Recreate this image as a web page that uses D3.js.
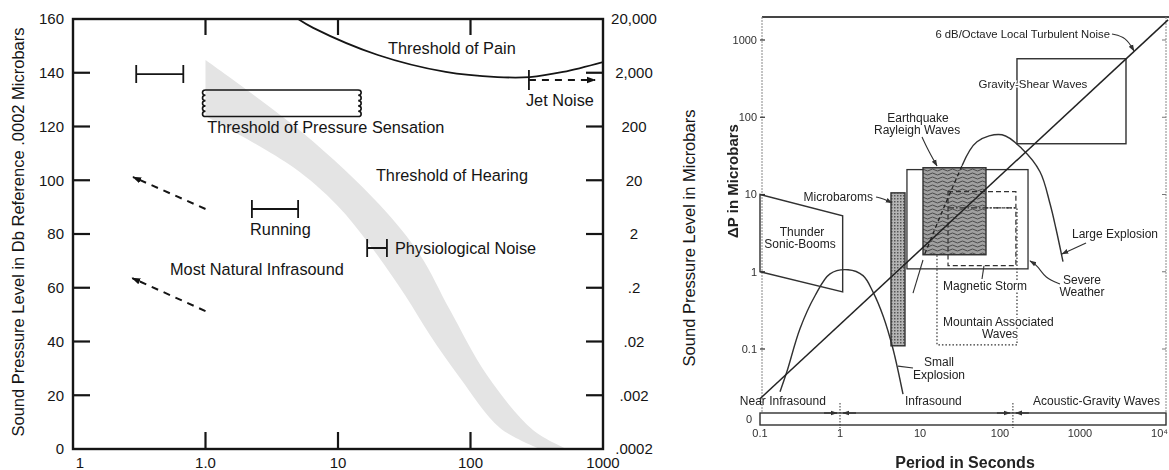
<!DOCTYPE html>
<html><head><meta charset="utf-8">
<script src="https://cdn.jsdelivr.net/npm/d3@7"></script>
<style>
body{margin:0;background:#fff}
svg{display:block}
text{font-family:"Liberation Sans",Arial,sans-serif}
</style></head><body>
<svg id="c" width="1169" height="470"></svg>
<script>
// ---------- Left panel: sound pressure level vs frequency ----------
const leftFreqTicks = [0.1, 1, 10, 100, 1000];
const leftFreqLabels = ["1", "1.0", "10", "100", "1000"];
const dbTicks = [0, 20, 40, 60, 80, 100, 120, 140, 160];
const microbarLabels = [".0002", ".002", ".02", ".2", "2", "20", "200", "2,000", "20,000"];

// threshold of pain [frequency, dB]
const painThreshold = [[5, 160], [6.5, 156.7], [20, 146.6], [65, 140.3], [160, 138.4], [280, 138.4], [500, 140.3], [1000, 144]];
// threshold of hearing band, upper and lower edges [frequency, dB]
const hearingUpper = [[1.0, 144.7], [5.44, 117.6], [20.7, 90.8], [41.6, 72.2], [70, 51.7], [133, 27.5], [296, 7.1], [535, 0]];
const hearingLower = [[1.0, 123.9], [4.57, 104.9], [9.8, 90.8], [17.4, 75.9], [32, 57.3], [49.4, 42.4], [83.4, 26.4], [167, 7.8], [335, 0]];
// threshold of pressure sensation: frequency span and dB span
const pressureFreq = [1.0, 14.2];
const pressureDb = [123.7, 133.6];
// range bars: frequency from, frequency to, dB
const rangeFrom = [0.30, 2.24, 16.6];
const rangeTo = [0.68, 5.0, 23.4];
const rangeDb = [139.5, 89.3, 74.8];
// jet noise: start frequency, end frequency, dB
const jetFreq = [276, 871];
const jetDb = 137.3;
// natural infrasound trend arrows [from, to] as [frequency, dB]
const infraArrowUpper = [[1.0, 89.3], [0.284, 101.2]];
const infraArrowLower = [[1.0, 51.3], [0.28, 63.6]];

// ---------- Right panel: pressure amplitude vs period ----------
const periodTicks = [0.1, 1, 10, 100, 1000, 10000];
const periodLabels = ["0.1", "1", "10", "100", "1000", "10\u2074"];
const dpTicks = [0.1, 1, 10, 100, 1000];
const dpLabels = ["0.1", "1", "10", "100", "1000"];

const turbulentNoise = [[0.1, 0.0227], [12600, 1820]];
const gravityShearT = [163, 3758], gravityShearP = [45.4, 572];
const severeWeatherT = [6.87, 224], severeWeatherP = [1.09, 21];
const earthquakeT = [10.9, 66.8], earthquakeP = [1.66, 22.2];
const microbaromsT = [4.34, 6.49], microbaromsP = [0.11, 10.5];
const magneticT = [22.4, 158], magneticP = [1.2, 10.9];
const mountainT = [16.3, 163], mountainP = [0.113, 6.7];
const thunder = [[0.1, 10], [1.08, 5.31], [1.08, 0.55], [0.1, 1]];
const largeExplosion = [[11.5, 1.71], [17.8, 5.15], [25.1, 11.9], [33.5, 23.6], [51.6, 48.2], [106, 59.3], [188, 39.1], [316, 19.7], [422, 7.6], [501, 3.6], [613, 1.35]];
const largeExplosionHidden = 4; // first points run through the shaded box
const smallExplosion = [[0.178, 0.028], [0.217, 0.051], [0.316, 0.183], [0.487, 0.489], [0.75, 0.94], [1.26, 1.06], [1.94, 0.89], [2.58, 0.55], [3.45, 0.27], [4.6, 0.10], [6.13, 0.026]];
const bandBoundaries = [1, 145];

const svg = d3.select("#c");
const defs = svg.append("defs");

function addMarker(id, color, size) {
  defs.append("marker").attr("id", id)
    .attr("viewBox", "0 0 10 10").attr("refX", 9).attr("refY", 5)
    .attr("markerWidth", size).attr("markerHeight", size)
    .attr("markerUnits", "userSpaceOnUse")
    .attr("orient", "auto-start-reverse")
    .append("path").attr("d", "M0,1.5 L10,5 L0,8.5 z").attr("fill", color);
}
addMarker("arrL", "#111", 9);
addMarker("arrR", "#333", 7);

// shaded textures
const wav = defs.append("pattern").attr("id", "wavy").attr("patternUnits", "userSpaceOnUse")
  .attr("width", 10).attr("height", 4);
wav.append("rect").attr("width", 10).attr("height", 4).attr("fill", "#a0a0a0");
wav.append("path").attr("d", "M0,2 Q2.5,0 5,2 T10,2").attr("fill", "none").attr("stroke", "#4a4a4a").attr("stroke-width", 1);
const dots = defs.append("pattern").attr("id", "dots").attr("patternUnits", "userSpaceOnUse")
  .attr("width", 3).attr("height", 3);
dots.append("rect").attr("width", 3).attr("height", 3).attr("fill", "#b5b5b5");
dots.append("rect").attr("width", 1.5).attr("height", 1.5).attr("fill", "#555");

// soft scan look for the right-hand figure
defs.append("filter").attr("id", "soft").append("feGaussianBlur").attr("stdDeviation", 0.35);

// ================= LEFT PANEL =================
const xL = d3.scaleLog().domain([0.1, 1000]).range([73, 603]);
const yL = d3.scaleLinear().domain([0, 160]).range([449, 19]);
const L = svg.append("g");
defs.append("clipPath").attr("id", "clipL").append("rect")
  .attr("x", 73).attr("y", 19).attr("width", 530).attr("height", 430);

const lineL = d3.line().x(d => xL(d[0])).y(d => yL(d[1])).curve(d3.curveCatmullRom);
const ink = "#151515";

// hearing threshold band
const upperPath = lineL(hearingUpper);
const lowerPath = lineL(hearingLower.slice().reverse()).replace(/^M/, "L");
L.append("path").attr("clip-path", "url(#clipL)")
  .attr("d", upperPath + lowerPath + "Z").attr("fill", "#e4e4e4");

// threshold of pain curve
L.append("path").attr("clip-path", "url(#clipL)").attr("d", lineL(painThreshold))
  .attr("fill", "none").attr("stroke", ink).attr("stroke-width", 1.8);

// threshold of pressure sensation box with wavy ends
{
  const x0 = xL(pressureFreq[0]), x1 = xL(pressureFreq[1]);
  const yt = yL(pressureDb[1]), yb = yL(pressureDb[0]);
  const n = 5, h = (yb - yt) / n;
  let p = `M${x0},${yt}L${x1},${yt}`;
  for (let i = 0; i < n; i++) p += `a3,${h / 2} 0 0 1 0,${h}`;
  p += `L${x0},${yb}`;
  for (let i = 0; i < n; i++) p += `a3,${h / 2} 0 0 1 0,${-h}`;
  L.append("path").attr("d", p).attr("fill", "none").attr("stroke", ink).attr("stroke-width", 1.6);
}

// range bars
rangeDb.forEach((db, i) => {
  const a = xL(rangeFrom[i]), b = xL(rangeTo[i]), y = yL(db);
  L.append("path").attr("d", `M${a},${y - 9}V${y + 9}M${a},${y}H${b}M${b},${y - 9}V${y + 9}`)
    .attr("fill", "none").attr("stroke", ink).attr("stroke-width", 1.8);
});

// jet noise
{
  const a = xL(jetFreq[0]), b = xL(jetFreq[1]), y = yL(jetDb);
  L.append("line").attr("x1", a).attr("x2", a).attr("y1", y - 10).attr("y2", y + 10)
    .attr("stroke", ink).attr("stroke-width", 1.8);
  L.append("line").attr("x1", a).attr("x2", b).attr("y1", y).attr("y2", y)
    .attr("stroke", ink).attr("stroke-width", 1.8).attr("stroke-dasharray", "7,6")
    .attr("marker-end", "url(#arrL)");
}

// natural infrasound arrows
[infraArrowUpper, infraArrowLower].forEach(seg => {
  L.append("line").attr("x1", xL(seg[0][0])).attr("y1", yL(seg[0][1]))
    .attr("x2", xL(seg[1][0])).attr("y2", yL(seg[1][1]))
    .attr("stroke", ink).attr("stroke-width", 2).attr("stroke-dasharray", "7,6")
    .attr("marker-end", "url(#arrL)");
});

// frame and ticks
L.append("rect").attr("x", 73).attr("y", 19).attr("width", 530).attr("height", 430)
  .attr("fill", "none").attr("stroke", ink).attr("stroke-width", 2.4);
dbTicks.filter(d => d > 0 && d < 160).forEach(d => {
  L.append("line").attr("x1", 73).attr("x2", 90).attr("y1", yL(d)).attr("y2", yL(d)).attr("stroke", ink).attr("stroke-width", 2.2);
  L.append("line").attr("x1", 586).attr("x2", 603).attr("y1", yL(d)).attr("y2", yL(d)).attr("stroke", ink).attr("stroke-width", 2.2);
});
leftFreqTicks.filter(f => f > 0.1 && f < 1000).forEach(f => {
  L.append("line").attr("x1", xL(f)).attr("x2", xL(f)).attr("y1", 19).attr("y2", 35).attr("stroke", ink).attr("stroke-width", 2.2);
  L.append("line").attr("x1", xL(f)).attr("x2", xL(f)).attr("y1", 432).attr("y2", 449).attr("stroke", ink).attr("stroke-width", 2.2);
});

// tick labels
const tl = L.append("g").attr("font-size", 15).attr("fill", ink);
dbTicks.forEach((d, i) => {
  tl.append("text").attr("x", 64).attr("y", yL(d)).attr("dy", "0.35em").attr("text-anchor", "end").text(d);
  tl.append("text").attr("x", 634).attr("y", yL(d)).attr("dy", "0.35em").attr("text-anchor", "middle").text(microbarLabels[i]);
});
leftFreqTicks.forEach((f, i) => {
  tl.append("text").attr("x", xL(f) + (i === 0 ? 7 : 0)).attr("y", 468).attr("text-anchor", "middle").text(leftFreqLabels[i]);
});

// axis titles
L.append("text").attr("transform", "translate(24,232) rotate(-90)").attr("text-anchor", "middle")
  .attr("font-size", 16.5).attr("fill", ink).text("Sound Pressure Level in Db Reference .0002 Microbars");
L.append("text").attr("transform", "translate(695,238) rotate(-90)").attr("text-anchor", "middle")
  .attr("font-size", 16.5).attr("fill", ink).text("Sound Pressure Level in Microbars");

// annotations
const ann = L.append("g").attr("font-size", 16.3).attr("fill", ink);
function noteL(txt, f, db, anchor) {
  ann.append("text").attr("x", xL(f)).attr("y", yL(db)).attr("dy", "0.35em").attr("text-anchor", anchor).text(txt);
}
noteL("Threshold of Pain", 72.4, 149.2, "middle");
noteL("Jet Noise", 473, 129.9, "middle");
noteL("Threshold of Pressure Sensation", 1.03, 119.8, "start");
noteL("Threshold of Hearing", 72.4, 102, "middle");
noteL("Running", 2.17, 81.9, "start");
noteL("Physiological Noise", 26.9, 74.8, "start");
noteL("Most Natural Infrasound", 0.54, 67, "start");

// ================= RIGHT PANEL =================
const xR = d3.scaleLog().domain([0.1, 10000]).range([760, 1160]);
const yR = d3.scaleLog().domain([0.1, 1000]).range([349, 40]);
const grey = "#303030";
const G = svg.append("g").attr("filter", "url(#soft)");
const lineR = d3.line().x(d => xR(d[0])).y(d => yR(d[1]));
const curveR = d3.line().x(d => xR(d[0])).y(d => yR(d[1])).curve(d3.curveCatmullRom);
const stripTop = 413, stripBot = 425;

// frame
G.append("line").attr("x1", 762).attr("x2", 1169).attr("y1", 17).attr("y2", 17).attr("stroke", "#444").attr("stroke-width", 1.8);
G.append("line").attr("x1", 762).attr("x2", 762).attr("y1", 17).attr("y2", stripTop).attr("stroke", "#888").attr("stroke-width", 1).attr("stroke-dasharray", "2,1");
G.append("line").attr("x1", 1166).attr("x2", 1166).attr("y1", 17).attr("y2", stripTop).attr("stroke", "#888").attr("stroke-width", 1).attr("stroke-dasharray", "2,1");

function rectR(T, P) {
  return { x: xR(T[0]), y: yR(P[1]), w: xR(T[1]) - xR(T[0]), h: yR(P[0]) - yR(P[1]) };
}
function drawRect(T, P, fill, dash, sw) {
  const r = rectR(T, P);
  return G.append("rect").attr("x", r.x).attr("y", r.y).attr("width", r.w).attr("height", r.h)
    .attr("fill", fill).attr("stroke", grey).attr("stroke-width", sw || 1.3)
    .attr("stroke-dasharray", dash || null);
}

// thunder / sonic booms
G.append("path").attr("d", lineR(thunder) + "Z").attr("fill", "none").attr("stroke", grey).attr("stroke-width", 1.4);

drawRect(severeWeatherT, severeWeatherP, "none");
drawRect(mountainT, mountainP, "none", "1.5,2", 1.2);
drawRect(earthquakeT, earthquakeP, "url(#wavy)", null, 1.4);
drawRect(microbaromsT, microbaromsP, "url(#dots)", null, 1.4);
drawRect(magneticT, magneticP, "none", "5,3", 1.2);
// upper edge of mountain associated waves across the shaded box
G.append("line").attr("x1", xR(magneticT[0])).attr("x2", xR(mountainT[1]))
  .attr("y1", yR(mountainP[1])).attr("y2", yR(mountainP[1]))
  .attr("stroke", grey).attr("stroke-width", 1.2).attr("stroke-dasharray", "6,2,1.5,2");

// gravity-shear waves
drawRect(gravityShearT, gravityShearP, "none", null, 1.4);

// explosion curves
G.append("path").attr("d", curveR(largeExplosion.slice(0, largeExplosionHidden)))
  .attr("fill", "none").attr("stroke", "#222").attr("stroke-width", 1.3).attr("stroke-dasharray", "4,3");
G.append("path").attr("d", curveR(largeExplosion.slice(largeExplosionHidden - 1)))
  .attr("fill", "none").attr("stroke", grey).attr("stroke-width", 1.4);
G.append("path").attr("d", curveR(smallExplosion))
  .attr("fill", "none").attr("stroke", grey).attr("stroke-width", 1.4);

// turbulent noise line
G.append("path").attr("d", lineR(turbulentNoise)).attr("fill", "none").attr("stroke", "#222").attr("stroke-width", 1.5);

// leaders
function leader(pts, arrow) {
  G.append("path").attr("d", d3.line().x(d => xR(d[0])).y(d => yR(d[1])).curve(d3.curveBasis)(pts))
    .attr("fill", "none").attr("stroke", grey).attr("stroke-width", 1.1)
    .attr("marker-end", arrow ? "url(#arrR)" : null);
}
leader([[2512, 1197], [3758, 1094], [4732, 721]], true);
leader([[10.6, 55.5], [12.6, 37.7], [16.3, 23.4]], true);
leader([[2.82, 9.3], [3.55, 8.75], [4.47, 7.76]], true);
leader([[1189, 2.36], [596, 1.7]], true);
leader([[562, 0.693], [365, 0.83], [299, 1.19], [237, 1.38]], true);
leader([[59.6, 0.805], [63, 1.19]], false);
leader([[8.18, 0.0568], [5.31, 0.06]], false);
leader([[10.9, 1.42], [8.18, 0.53]], false);

// zero strip along the bottom
G.append("rect").attr("x", 760).attr("y", stripTop).attr("width", 406).attr("height", stripBot - stripTop)
  .attr("fill", "none").attr("stroke", grey).attr("stroke-width", 1.4);
bandBoundaries.forEach(b => {
  const x = xR(b);
  G.append("line").attr("x1", x).attr("x2", x).attr("y1", stripTop - 10).attr("y2", stripBot + 3)
    .attr("stroke", grey).attr("stroke-width", 1).attr("stroke-dasharray", "1.5,1.5");
  G.append("line").attr("x1", x - 16).attr("x2", x - 3).attr("y1", stripTop).attr("y2", stripTop)
    .attr("stroke", grey).attr("stroke-width", 1.3).attr("marker-end", "url(#arrR)");
  G.append("line").attr("x1", x + 16).attr("x2", x + 3).attr("y1", stripTop).attr("y2", stripTop)
    .attr("stroke", grey).attr("stroke-width", 1.3).attr("marker-end", "url(#arrR)");
});

// axis ticks and labels
const tr = G.append("g").attr("font-size", 11).attr("fill", grey);
dpTicks.forEach((d, i) => {
  G.append("line").attr("x1", 760).attr("x2", 765).attr("y1", yR(d)).attr("y2", yR(d)).attr("stroke", grey).attr("stroke-width", 1.2);
  G.append("line").attr("x1", 1162).attr("x2", 1166).attr("y1", yR(d)).attr("y2", yR(d)).attr("stroke", "#777").attr("stroke-width", 1);
  tr.append("text").attr("x", 757).attr("y", yR(d)).attr("dy", "0.35em").attr("text-anchor", "end").text(dpLabels[i]);
});
tr.append("text").attr("x", 749).attr("y", (stripTop + stripBot) / 2).attr("dy", "0.35em").attr("text-anchor", "middle").text("0");
periodTicks.forEach((t, i) => {
  const last = i === periodTicks.length - 1;
  tr.append("text").attr("x", last ? 1168 : xR(t)).attr("y", 437)
    .attr("text-anchor", last ? "end" : "middle").text(periodLabels[i]);
});

G.append("text").attr("transform", "translate(738,181) rotate(-90)").attr("text-anchor", "middle")
  .attr("font-size", 15).attr("font-weight", "bold").attr("fill", "#222").text("\u0394P in Microbars");
G.append("text").attr("x", 965).attr("y", 468).attr("text-anchor", "middle")
  .attr("font-size", 16).attr("font-weight", "bold").attr("fill", "#222").text("Period in Seconds");

// annotations
const an = G.append("g").attr("font-size", 12).attr("fill", "#222");
function noteR(txt, t, p, anchor, halo, size) {
  const el = an.append("text").attr("x", xR(t)).attr("y", yR(p)).attr("dy", "0.35em").attr("text-anchor", anchor).text(txt);
  if (halo) el.attr("stroke", "#fff").attr("stroke-width", 3).attr("paint-order", "stroke");
  if (size) el.attr("font-size", size);
}
noteR("6 dB/Octave Local Turbulent Noise", 2371, 1197, "end", false, 11.3);
noteR("Gravity-Shear Waves", 258, 269, "middle", true, 11.5);
noteR("Earthquake", 9.44, 98, "middle");
noteR("Rayleigh Waves", 9.2, 68.4, "middle");
noteR("Microbaroms", 2.58, 9.3, "end");
noteR("Thunder", 0.335, 3.27, "middle");
noteR("Sonic-Booms", 0.316, 2.29, "middle");
noteR("Large Explosion", 794, 3.08, "start");
noteR("Severe", 1059, 0.78, "middle");
noteR("Weather", 1059, 0.547, "middle");
noteR("Magnetic Storm", 19.4, 0.655, "start", true);
noteR("Mountain Associated", 19.4, 0.224, "start", true);
noteR("Waves", 100, 0.156, "middle", true);
noteR("Small", 17.3, 0.068, "middle");
noteR("Explosion", 17.3, 0.046, "middle");
an.append("text").attr("x", xR(0.056)).attr("y", stripTop - 8).text("Near Infrasound");
an.append("text").attr("x", xR(6.5)).attr("y", stripTop - 8).text("Infrasound");
an.append("text").attr("x", xR(10000)).attr("y", stripTop - 8).attr("text-anchor", "end").text("Acoustic-Gravity Waves");
</script>
</body></html>
